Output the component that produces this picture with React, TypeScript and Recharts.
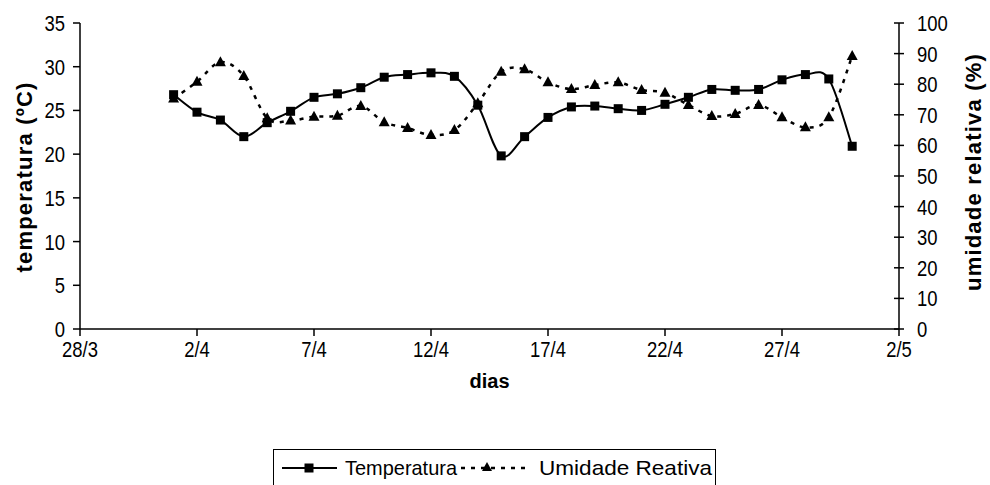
import React from "react";
import {
  LineChart,
  Line,
  XAxis,
  YAxis,
  Legend,
  Label,
} from "recharts";

// dias de abril (1/4 .. 30/4)
const dias = [1, 2, 3, 4, 5, 6, 7, 8, 9, 10, 11, 12, 13, 14, 15, 16, 17, 18, 19, 20, 21, 22, 23, 24, 25, 26, 27, 28, 29, 30];

const temperatura = [
  26.8, 24.8, 23.9, 22.0, 23.6, 24.9, 26.5, 26.9, 27.6, 28.8, 29.1, 29.3, 28.9, 25.6, 19.8,
  22.0, 24.2, 25.4, 25.5, 25.2, 25.0, 25.7, 26.5, 27.4, 27.3, 27.4, 28.5, 29.1, 28.6, 20.9,
];

const umidade = [
  75.3, 80.8, 87.2, 82.7, 68.9, 68.1, 69.4, 69.7, 72.9, 67.6, 65.7, 63.4, 65.0, 73.8, 84.1,
  84.9, 80.6, 78.4, 79.7, 80.6, 78.1, 77.2, 73.2, 69.6, 70.3, 73.2, 69.2, 65.9, 69.2, 89.2,
];

// posição dos ticks em dias de abril (28/3 = -3, 2/5 = 32)
const xTicks = [-3, 2, 7, 12, 17, 22, 27, 32];
const xTickLabels = ["28/3", "2/4", "7/4", "12/4", "17/4", "22/4", "27/4", "2/5"];
const tempTicks = [0, 5, 10, 15, 20, 25, 30, 35];
const umidTicks = [0, 10, 20, 30, 40, 50, 60, 70, 80, 90, 100];

const data = dias.map((d, i) => ({
  dia: d,
  temperatura: temperatura[i],
  umidade: umidade[i],
}));

const FONT = '"Liberation Sans", Arial, sans-serif';

// suavização tipo Excel (Catmull-Rom)
const excelCurve = (context: any) => {
  let pts: number[][] = [];
  return {
    areaStart() {},
    areaEnd() {},
    lineStart() {
      pts = [];
    },
    lineEnd() {
      if (!pts.length) return;
      context.moveTo(pts[0][0], pts[0][1]);
      for (let i = 0; i < pts.length - 1; i++) {
        const p0 = pts[i - 1] || pts[i];
        const p1 = pts[i];
        const p2 = pts[i + 1];
        const p3 = pts[i + 2] || p2;
        context.bezierCurveTo(
          p1[0] + (p2[0] - p0[0]) / 6,
          p1[1] + (p2[1] - p0[1]) / 6,
          p2[0] - (p3[0] - p1[0]) / 6,
          p2[1] - (p3[1] - p1[1]) / 6,
          p2[0],
          p2[1]
        );
      }
    },
    point(x: number, y: number) {
      pts.push([+x, +y]);
    },
  };
};

const Square = (p: any) => (
  <rect key={`sq-${p.index}`} x={p.cx - 4.5} y={p.cy - 4.5} width={9} height={9} fill="#000" />
);

const Triangle = (p: any) => (
  <path
    key={`tr-${p.index}`}
    d={`M${p.cx},${p.cy - 6}L${p.cx + 5.5},${p.cy + 4}L${p.cx - 5.5},${p.cy + 4}Z`}
    fill="#000"
  />
);

// texto um pouco condensado, como no original
const NarrowTick = (props: any) => {
  const { x, y, payload, textAnchor, fmt, dy, cross } = props;
  const label = fmt ? fmt(payload.value) : payload.value;
  return (
    <g transform={`translate(${x},${y})`}>
      {cross ? (
        <line x1={-cross - 5} y1={0} x2={-cross + 5} y2={0} stroke="#000" strokeWidth={1.5} />
      ) : null}
      <text
        transform="scale(0.84,1)"
        textAnchor={textAnchor}
        dy={dy}
        fontFamily={FONT}
        fontSize={22}
        fill="#000"
      >
        {label}
      </text>
    </g>
  );
};

const fmtX = (v: number) => xTickLabels[xTicks.indexOf(v)];

const LegendBox = () => (
  <div style={{ height: 36, position: "relative" }}>
    <svg
      width={443}
      height={46}
      style={{ position: "absolute", left: 273, top: 0, overflow: "visible" }}
    >
      <rect x={0.5} y={0.5} width={442} height={44} fill="#fff" stroke="#000" strokeWidth={1} />
      <line x1={9} y1={19} x2={64} y2={19} stroke="#000" strokeWidth={2} />
      <rect x={31.5} y={14.5} width={9} height={9} fill="#000" />
      <text x={72} y={26} fontFamily={FONT} fontSize={21} textLength={112} lengthAdjust="spacingAndGlyphs">
        Temperatura
      </text>
      <line x1={188} y1={19} x2={252} y2={19} stroke="#000" strokeWidth={2.5} strokeDasharray="4 6" />
      <path d="M214,13 L219,22 L209,22 Z" fill="#000" />
      <text x={266} y={26} fontFamily={FONT} fontSize={21} textLength={173} lengthAdjust="spacingAndGlyphs">
        Umidade Reativa
      </text>
    </svg>
  </div>
);

const titleStyle = { fontFamily: FONT, fontSize: 20, fontWeight: 700, fill: "#000" };

export default function App() {
  return (
    <div style={{ position: "absolute", left: 0, top: 0, background: "#fff" }}>
      <LineChart
        width={990}
        height={485}
        data={data}
        margin={{ top: 23, right: 0, bottom: 60, left: 0 }}
      >
        <XAxis
          dataKey="dia"
          type="number"
          domain={[-3, 32]}
          ticks={xTicks}
          interval={0}
          height={60}
          stroke="#000"
          strokeWidth={1.5}
          tickSize={7}
          tickMargin={5}
          tick={<NarrowTick fmt={fmtX} dy="0.71em" />}
        >
          <Label
            content={(p: any) => (
              <text
                x={p.viewBox.x + p.viewBox.width / 2}
                y={p.viewBox.y + 59}
                textAnchor="middle"
                style={titleStyle}
              >
                dias
              </text>
            )}
          />
        </XAxis>
        <YAxis
          yAxisId="left"
          domain={[0, 35]}
          ticks={tempTicks}
          interval={0}
          width={80}
          stroke="#000"
          strokeWidth={1.5}
          tickSize={7}
          tickMargin={8}
          tick={<NarrowTick dy="0.36em" />}
        >
          <Label
            content={() => (
              <text
                x={24}
                y={177}
                textAnchor="middle"
                dominantBaseline="central"
                transform="rotate(-90, 24, 177)"
                style={{ ...titleStyle, fontSize: 22, letterSpacing: 1.2 }}
              >
                temperatura (ºC)
              </text>
            )}
          />
        </YAxis>
        <YAxis
          yAxisId="right"
          orientation="right"
          domain={[0, 100]}
          ticks={umidTicks}
          interval={0}
          width={91}
          stroke="#000"
          strokeWidth={1.5}
          tickLine={false}
          tickSize={5}
          tickMargin={13}
          tick={<NarrowTick dy="0.36em" cross={18} />}
        >
          <Label
            content={() => (
              <text
                x={973}
                y={172}
                textAnchor="middle"
                dominantBaseline="central"
                transform="rotate(-90, 973, 172)"
                style={{ ...titleStyle, fontSize: 22, letterSpacing: 1.2 }}
              >
                umidade relativa (%)
              </text>
            )}
          />
        </YAxis>
        <Legend
          verticalAlign="bottom"
          content={() => <LegendBox />}
          wrapperStyle={{ top: 449, bottom: "auto", left: 0, width: 990 }}
        />
        <Line
          yAxisId="right"
          dataKey="umidade"
          name="Umidade Reativa"
          type={excelCurve as any}
          stroke="#000"
          strokeWidth={2.5}
          strokeDasharray="4 6"
          dot={Triangle}
          activeDot={false}
          isAnimationActive={false}
        />
        <Line
          yAxisId="left"
          dataKey="temperatura"
          name="Temperatura"
          type={excelCurve as any}
          stroke="#000"
          strokeWidth={2}
          dot={Square}
          activeDot={false}
          isAnimationActive={false}
        />
      </LineChart>
    </div>
  );
}
